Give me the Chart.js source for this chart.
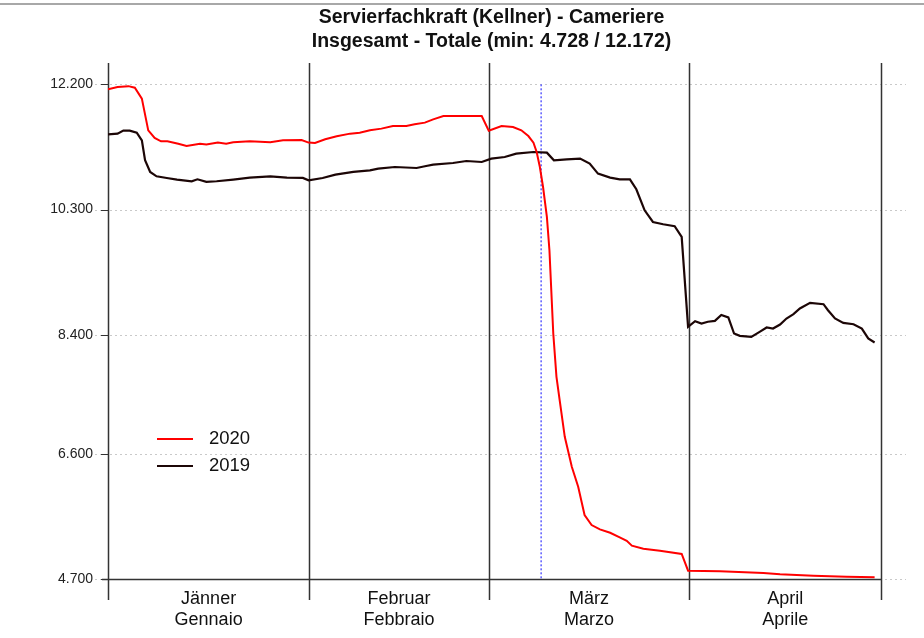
<!DOCTYPE html>
<html>
<head>
<meta charset="utf-8">
<script src="https://cdn.jsdelivr.net/npm/chart.js@4/dist/chart.umd.min.js"></script>
<style>
  body { margin: 0; background: #fff; }
</style>
</head>
<body>
<canvas id="chart" width="924" height="638"></canvas>
<script>
// x is a day index from 1 January (0) to the end of April (121)
const titleLines = ['Servierfachkraft (Kellner) - Cameriere', 'Insgesamt - Totale (min: 4.728 / 12.172)'];
const monthStarts = [0, 31.5, 59.6, 91, 121];
const monthLabels = [['Jänner', 'Gennaio'], ['Februar', 'Febbraio'], ['März', 'Marzo'], ['April', 'Aprile']];
const yTicks = [4700, 6600, 8400, 10300, 12200];
const lockdownDay = 67.8; // 9 March

const days2020 = [0, 1.5, 3.2, 4.2, 5.3, 6.3, 7.3, 8.3, 9.3, 11, 12.3, 14.4, 15.4, 17.2, 18.5, 19.6, 22.2, 25.4, 27.4, 30.3,
  31.4, 32.4, 34, 35.8, 37.9, 39.4, 41, 42.8, 44.6, 46.7, 48, 49.6, 50.9, 52.5, 58.5, 59.6, 61.6, 63.4, 64.7, 65.8,
  66.6, 67.1, 67.6, 68.1, 68.7, 69.1, 69.7, 70.2, 70.7, 71.5, 72.6, 73.6, 74.6, 75.7, 77, 78.6, 80.1, 81.2, 82, 83.8,
  86.4, 89.8, 90.8, 95.8, 102.6, 105.2, 110.4, 115.6, 120];
const values2020 = [12124, 12158, 12172, 12149, 11983, 11502, 11386, 11336, 11336, 11300, 11265, 11300, 11286, 11316, 11300, 11320, 11336, 11320, 11350, 11355,
  11316, 11310, 11366, 11411, 11452, 11467, 11502, 11528, 11568, 11568, 11593, 11619, 11669, 11719, 11719, 11497, 11568, 11553, 11502, 11416,
  11316, 11174, 10946, 10643, 10189, 9684, 8422, 7765, 7412, 6856, 6401, 6098, 5670, 5518, 5453, 5401, 5332, 5280, 5205, 5159,
  5129, 5079, 4826, 4817, 4791, 4771, 4750, 4735, 4728];

const days2019 = [0, 1.5, 2.4, 3.4, 4.5, 5.3, 5.8, 6.6, 7.6, 9.2, 10.8, 13.1, 14, 15.4, 17, 19.6, 22.2, 25.4, 28, 30.5,
  31.4, 33.6, 35.6, 38.4, 41, 42.3, 44.9, 48.3, 49.8, 50.9, 54, 56.1, 58.5, 60, 62.1, 63.9, 66.6, 68.7, 69.8, 71.8,
  73.9, 75.4, 76.7, 78.6, 80.1, 81.7, 82.7, 84, 85.3, 86.9, 88.7, 89.8, 90.8, 91.9, 92.9, 93.9, 95, 96, 97.1, 98,
  98.9, 100.7, 102, 103.1, 104.1, 105.2, 106.2, 107.3, 108.3, 109.9, 112, 112.7, 113.8, 115.1, 116.7, 118, 119, 120];
const values2019 = [11442, 11452, 11498, 11498, 11467, 11351, 11048, 10871, 10805, 10780, 10756, 10730, 10760, 10720, 10730, 10756, 10786, 10805, 10786, 10780,
  10745, 10780, 10831, 10871, 10896, 10921, 10946, 10931, 10961, 10982, 11007, 11037, 11022, 11073, 11098, 11149, 11174, 11164, 11048, 11063,
  11073, 10998, 10846, 10786, 10760, 10760, 10609, 10290, 10113, 10078, 10048, 9886, 8522, 8609, 8574, 8600, 8613, 8704, 8665, 8422,
  8386, 8371, 8447, 8513, 8497, 8558, 8649, 8715, 8801, 8886, 8866, 8775, 8650, 8583, 8563, 8497, 8347, 8286];

const FONT = "'Liberation Sans', Arial, Helvetica, sans-serif";
const RED = '#ff0000';
const BLACK = '#1c0606';

const fmt = v => String(v).replace(/\B(?=(\d{3})+(?!\d))/g, '.');
const toPoints = (xs, ys) => xs.map((d, i) => ({ x: d, y: ys[i] }));

const line = (ctx, x1, y1, x2, y2) => {
  ctx.beginPath();
  ctx.moveTo(x1, y1);
  ctx.lineTo(x2, y2);
  ctx.stroke();
};

const framePlugin = {
  id: 'frame',
  beforeDatasetsDraw(chart) {
    const { ctx, chartArea: a, scales: { x, y } } = chart;
    ctx.save();

    // outer top rule
    ctx.fillStyle = '#a8a8a8';
    ctx.fillRect(0, 3, chart.width, 2);

    // dotted horizontal grid
    ctx.strokeStyle = '#c9c9c9';
    ctx.lineWidth = 1;
    ctx.setLineDash([2, 3]);
    yTicks.forEach(v => {
      const py = Math.round(y.getPixelForValue(v)) + 0.5;
      line(ctx, a.left - 13, py, a.right + 25, py);
    });

    // lockdown marker
    ctx.strokeStyle = '#5050ff';
    ctx.lineWidth = 1.4;
    ctx.setLineDash([2, 2]);
    const lx = x.getPixelForValue(lockdownDay);
    line(ctx, lx, y.getPixelForValue(yTicks[yTicks.length - 1]), lx, y.getPixelForValue(yTicks[0]));

    // month separators
    ctx.setLineDash([]);
    ctx.strokeStyle = '#333';
    ctx.lineWidth = 1.5;
    monthStarts.forEach(d => {
      const px = Math.round(x.getPixelForValue(d)) + 0.5;
      line(ctx, px, a.top, px, a.bottom + 21);
    });
    ctx.restore();
  },
  afterDatasetsDraw(chart) {
    const { ctx, chartArea: a, scales: { x, y } } = chart;
    ctx.save();

    // x axis line and y tick marks
    ctx.strokeStyle = '#333';
    ctx.lineWidth = 1.5;
    const by = Math.round(y.getPixelForValue(yTicks[0])) + 0.5;
    line(ctx, a.left - 6, by, a.right, by);
    ctx.lineWidth = 1;
    yTicks.forEach(v => {
      const py = Math.round(y.getPixelForValue(v)) + 0.5;
      line(ctx, a.left - 7, py, a.left, py);
    });

    // y labels
    ctx.fillStyle = '#222';
    ctx.font = '14px ' + FONT;
    ctx.textAlign = 'right';
    ctx.textBaseline = 'middle';
    yTicks.forEach(v => ctx.fillText(fmt(v), a.left - 15, y.getPixelForValue(v)));

    // month labels
    ctx.fillStyle = '#111';
    ctx.font = '18px ' + FONT;
    ctx.textAlign = 'center';
    monthLabels.forEach((lbl, i) => {
      const cx = (x.getPixelForValue(monthStarts[i]) + x.getPixelForValue(monthStarts[i + 1])) / 2;
      ctx.fillText(lbl[0], cx, a.bottom + 20);
      ctx.fillText(lbl[1], cx, a.bottom + 41);
    });

    // title
    ctx.fillStyle = '#111';
    ctx.font = 'bold 19.5px ' + FONT;
    const tx = (a.left + a.right) / 2 - 3;
    ctx.fillText(titleLines[0], tx, 18);
    ctx.fillText(titleLines[1], tx, 42);

    // legend
    ctx.textAlign = 'left';
    ctx.font = '18.5px ' + FONT;
    chart.data.datasets.forEach((ds, i) => {
      const ly = 439 + i * 27;
      ctx.strokeStyle = ds.borderColor;
      ctx.lineWidth = 2;
      line(ctx, 157, ly, 193, ly);
      ctx.fillStyle = '#111';
      ctx.fillText(ds.label, 209, ly);
    });
    ctx.restore();
  }
};

const chart = new Chart(document.getElementById('chart'), {
  type: 'line',
  data: {
    datasets: [
      {
        label: '2020',
        data: toPoints(days2020, values2020),
        borderColor: RED,
        borderWidth: 2,
        pointRadius: 0,
        tension: 0,
        order: 0,
      },
      {
        label: '2019',
        data: toPoints(days2019, values2019),
        borderColor: BLACK,
        borderWidth: 2.2,
        pointRadius: 0,
        tension: 0,
        order: 1,
      },
    ],
  },
  options: {
    responsive: false,
    animation: false,
    devicePixelRatio: 1,
    layout: { padding: { left: 108, right: 43, top: 63, bottom: 59 } },
    scales: {
      x: { type: 'linear', min: monthStarts[0], max: monthStarts[monthStarts.length - 1], display: false },
      y: { type: 'linear', min: 4700, max: 12523, display: false },
    },
    plugins: {
      legend: { display: false },
      title: { display: false },
      tooltip: { enabled: false },
    },
  },
  plugins: [framePlugin],
});
</script>
</body>
</html>
